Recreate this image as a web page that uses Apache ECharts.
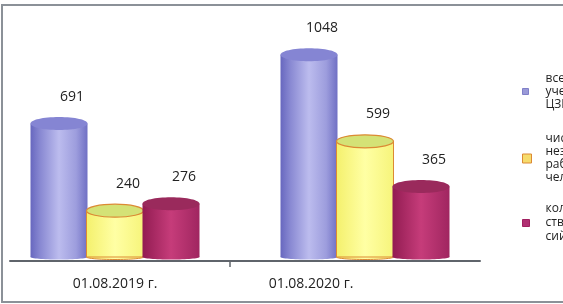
<!DOCTYPE html>
<html>
<head>
<meta charset="utf-8">
<script src="https://cdn.jsdelivr.net/npm/echarts@6/dist/echarts.min.js"></script>
<style>html,body{margin:0;padding:0;background:#fff}#c{width:563px;height:304px}</style>
</head>
<body>
<div id="c"></div>
<script>
const categories = ['01.08.2019 г.', '01.08.2020 г.'];
const seriesNames = [
  'всего состоящих на\nучете в\nЦЗН',
  'численность\nнезанятых\nработников,\nчеловек',
  'количе-\nство вакан-\nсий'
];
const totalRegistered = [691, 1048];
const unemployedCount = [240, 599];
const vacancyCount = [276, 365];
const seriesValues = [totalRegistered, unemployedCount, vacancyCount];

const FONT = '"Open Sans", "Noto Sans", sans-serif';
const G = echarts.graphic;
const styles = [
  {
    body: () => new G.LinearGradient(0, 0, 1, 0, [
      {offset: 0, color: '#6767bf'}, {offset: 0.18, color: '#8a8ad3'},
      {offset: 0.5, color: '#bcbcee'}, {offset: 0.8, color: '#9d9ddd'},
      {offset: 1, color: '#7070c4'}]),
    top: '#8585d3', stroke: null, legend: '#9a9ad8', legendBorder: '#8080c8'
  },
  {
    body: () => new G.LinearGradient(0, 0, 1, 0, [
      {offset: 0, color: '#f4f06c'}, {offset: 0.5, color: '#ffffa4'},
      {offset: 1, color: '#f6f47a'}]),
    top: '#d4e276', stroke: '#dc8a34', legend: '#f6dc6c', legendBorder: '#dc8a34'
  },
  {
    body: () => new G.LinearGradient(0, 0, 1, 0, [
      {offset: 0, color: '#921c52'}, {offset: 0.5, color: '#c63c7a'},
      {offset: 1, color: '#a02660'}]),
    top: '#9a2a5c', stroke: null, legend: '#b03072', legendBorder: '#a02060'
  }
];
const groupShift = -10;
const offsets = [-56 + groupShift, groupShift, 56 + groupShift];
const BAR_W = 57;

function makeRender(si) {
  return function (params, api) {
    const idx = api.value(0);
    const val = api.value(1);
    const top = api.coord([idx, val]);
    const base = api.coord([idx, 0]);
    const cx = top[0] + offsets[si];
    const x0 = cx - BAR_W / 2;
    const st = styles[si];
    const children = [
      {type: 'ellipse', shape: {cx: cx, cy: base[1], rx: BAR_W / 2, ry: 2.5},
        style: {fill: st.body(), stroke: st.stroke, lineWidth: 1}},
      {type: 'rect', shape: {x: x0, y: top[1], width: BAR_W, height: base[1] - top[1]},
        style: {fill: st.body(), stroke: st.stroke, lineWidth: st.stroke ? 1 : 0}},
      {type: 'ellipse', shape: {cx: cx, cy: top[1], rx: BAR_W / 2, ry: 6.5},
        style: {fill: st.top, stroke: st.stroke, lineWidth: st.stroke ? 1.2 : 0}},
      {type: 'text', style: {text: String(val), x: cx + 13, y: top[1] - 27,
        align: 'center', verticalAlign: 'middle', font: '14px ' + FONT, fill: '#222'}}
    ];
    return {type: 'group', children: children};
  };
}

const series = seriesNames.map((name, si) => ({
  type: 'custom',
  name: name,
  xAxisIndex: 0, yAxisIndex: 0,
  itemStyle: {color: styles[si].legend},
  renderItem: makeRender(si),
  data: seriesValues[si].map((v, i) => [i, v]),
  z: 2 + si
}));

function legendFor(si, top, itemW, padLeft, padTop) {
  return {
    data: [seriesNames[si]],
    orient: 'vertical', left: 522, top: top, padding: 0,
    icon: 'rect', itemWidth: itemW, itemHeight: itemW,
    selectedMode: false,
    itemStyle: {color: styles[si].legend, borderColor: styles[si].legendBorder, borderWidth: 1},
    textStyle: {fontFamily: FONT, fontSize: 12, color: '#222', lineHeight: si === 2 ? 14 : 13,
      padding: [padTop, 0, 0, padLeft]}
  };
}

const chart = echarts.init(document.getElementById('c'), null, {renderer: 'canvas'});
chart.setOption({
  backgroundColor: '#fff',
  animation: false,
  graphic: [{type: 'rect', shape: {x: 2, y: 5, width: 620, height: 297},
    style: {fill: null, stroke: '#8b9198', lineWidth: 2}, z: 10}],
  legend: [
    legendFor(0, 72, 6, 12, 0),
    legendFor(1, 120, 9, 9, 25),
    legendFor(2, 189, 7, 11, 26)
  ],
  grid: [
    {left: 0, right: 63, top: 6, bottom: 47},
    {left: 10, right: 83, bottom: 43, height: 10}
  ],
  xAxis: [
    {type: 'category', gridIndex: 0, data: categories, boundaryGap: true,
      axisLine: {show: false}, axisTick: {show: false},
      axisLabel: {margin: 20, fontFamily: FONT, fontSize: 14, color: '#222',
        formatter: (v, i) => i === 1 ? '{b|' + v + '}' : '{a|' + v + '}',
        rich: {a: {fontFamily: FONT, fontSize: 14, color: '#222', padding: [0, 20, 0, 0]},
               b: {fontFamily: FONT, fontSize: 14, color: '#222', padding: [0, 128, 0, 0]}}}},
    {type: 'value', gridIndex: 1, min: 0, max: 470,
      axisLine: {show: true, lineStyle: {color: '#5f646b', width: 2}},
      axisTick: {show: true, customValues: [220], length: 6, lineStyle: {color: '#5f646b', width: 1.5}},
      axisLabel: {show: false}, splitLine: {show: false}}
  ],
  yAxis: [
    {type: 'value', gridIndex: 0, min: 0, max: 1300, show: false},
    {type: 'value', gridIndex: 1, show: false}
  ],
  series: series
});
</script>
</body>
</html>
